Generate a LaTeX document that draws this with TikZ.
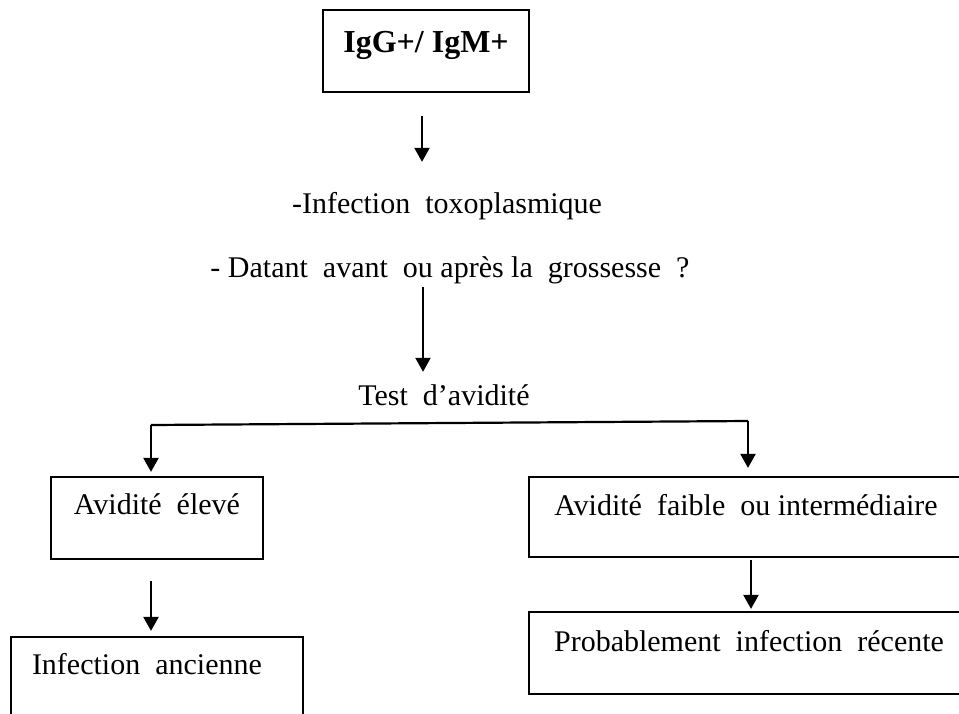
\documentclass[tikz,border=0pt]{standalone}
\usepackage{fontspec}
\setmainfont{Liberation Serif}
\usetikzlibrary{arrows.meta}
\newcommand\gp{\hspace{0.5em}}
\begin{document}
\begin{tikzpicture}[x=1pt,y=-1pt,
  txt/.style={font=\fontsize{30}{36}\selectfont},
  box/.style={txt, draw, line width=2.2pt, inner sep=0pt, text height=20pt, text depth=24pt},
  lbl/.style={txt, inner sep=0pt, anchor=base, text height=20pt, text depth=7pt},
  arr/.style={line width=2.2pt, -{Triangle[width=15pt,length=14pt]}},
  ln/.style={line width=2.2pt}]
\useasboundingbox (0,0) rectangle (959,713);
\clip (0,0) rectangle (959,713);
% boxes
\node[box, font=\fontsize{32}{38}\selectfont\bfseries, text depth=18pt, minimum width=206pt, minimum height=82pt] (top) at (426,51) {IgG+/ IgM+};
\node[box, text depth=28pt, minimum width=212pt, minimum height=82pt] (ae) at (157,518) {Avidité\gp élevé};
\node[box, inner xsep=21pt, text width=250pt, align=left, minimum height=79pt] (ia) at (157,676.5) {Infection\gp ancienne};
\node[box, minimum width=434pt, minimum height=80pt] (af) at (746,517) {Avidité\gp faible\gp ou intermédiaire};
\node[box, minimum width=440pt, minimum height=82pt] (pr) at (749,653) {Probablement\gp infection\gp récente};
% free texts
\node[lbl] (inf) at (447,213) {-Infection\gp toxoplasmique};
\node[lbl] (dat) at (450,277) {- Datant\gp avant\gp ou après la\gp grossesse\gp ?};
\node[lbl] (test) at (444,405) {Test\gp d’avidité};
% helper coordinates
\coordinate (xa) at (422,0);
\coordinate (xb) at (423,0);
\coordinate (xc) at (151,0);
\coordinate (xd) at (751,0);
\coordinate (hl) at (151,425);
\coordinate (hr) at (748,421);
% connectors
\draw[arr, shorten <=23pt, shorten >=31pt] (top.south -| xa) -- (inf.north -| xa);
\draw[arr, shorten <=3pt, shorten >=13pt] (dat.south -| xb) -- (test.north -| xb);
\draw[ln] (hl) -- (hr);
\draw[arr, shorten >=4pt] (hl) -- (ae.north -| hl);
\draw[arr, shorten >=8pt] (hr) -- (af.north -| hr);
\draw[arr, shorten <=21pt, shorten >=5pt] (ae.south -| xc) -- (ia.north -| xc);
\draw[arr, shorten <=2pt, shorten >=2pt] (af.south -| xd) -- (pr.north -| xd);
\end{tikzpicture}
\end{document}
